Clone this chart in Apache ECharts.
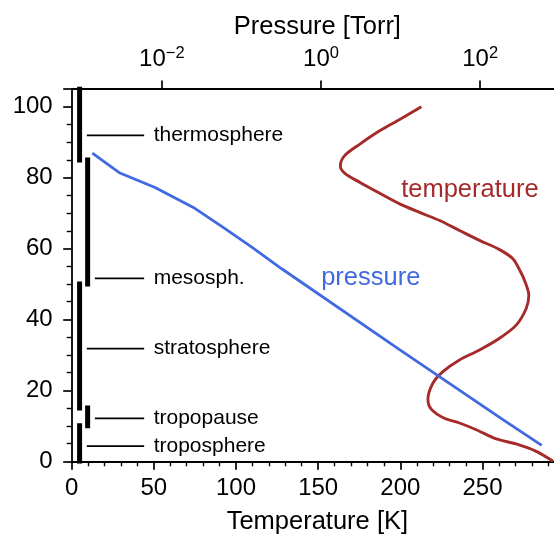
<!DOCTYPE html>
<html>
<head>
<meta charset="utf-8">
<script src="https://cdn.jsdelivr.net/npm/echarts@6/dist/echarts.min.js"></script>
<style>
  html, body { margin: 0; padding: 0; background: #fff; }
  #chart { width: 554px; height: 535px; }
</style>
</head>
<body>
<div id="chart"></div>
<script>
// Temperature profile: altitude (km) and temperature (K)
const tempAltitude = [0, 2.8, 4.9, 6.3, 8.9, 10.8, 12.2, 14.7, 17.5, 22.0, 25.3, 28.6, 31.4, 34.7,
  38.4, 43.1, 46.8, 51.0, 53.6, 57.1, 59.7, 62.3, 65.1, 67.9, 70.2, 72.6, 75.6, 78.7, 81.3,
  83.3, 86.2, 89.4, 93.2, 96.4, 100];
const tempKelvin = [293, 282.7, 270.5, 258.4, 246.2, 236.0, 226.5, 218.8, 216.8, 219.8, 225.9, 236.0,
  248.2, 260.4, 270.5, 276.6, 278.2, 275.6, 273.0, 268.5, 260.4, 248.2, 236.0, 223.9, 211.7,
  199.6, 187.4, 175.2, 166.1, 163.5, 166.1, 175.2, 187.4, 199.6, 212.8];

// Pressure profile: altitude (km) and pressure (Torr)
const pressureAltitude = [86.9, 81.3, 77.2, 71.6, 65.6, 60.4, 54.3, 31.4, 11.7, 4.5];
const pressureTorr = [0.00134, 0.00298, 0.00822, 0.0249, 0.0622, 0.135, 0.321, 9.8, 195, 593];

// Atmospheric layers (km) and the temperature column where each bar sits
const layerNames = ['troposphere', 'tropopause', 'stratosphere', 'mesosph.', 'thermosphere'];
const layerBottom = [0, 10, 15, 50, 85];
const layerTop = [10, 15, 50, 85, 105];
const layerColumn = [4.8, 9.7, 4.8, 9.7, 4.8];
const layerLabelAltitude = [4.3, 12.1, 31.8, 51.6, 91.9];
const layerLabelEnd = 44.1;

// Axis ticks
const pressureTicks = [0.01, 1, 100];

const FONT = 'Liberation Sans';
const BLACK = '#000';
const TEMP_COLOR = '#a52a2a';
const PRESSURE_COLOR = '#4169e1';
const TICK_SIZE = 24;
const NAME_SIZE = 25.5;

const baseAxis = (extra) => Object.assign({
  axisLine: { show: true, onZero: false, lineStyle: { color: BLACK, width: 1.8 } },
  axisTick: { show: true, length: 8.5, lineStyle: { color: BLACK, width: 1.7 } },
  splitLine: { show: false },
  nameTextStyle: { color: BLACK, fontFamily: FONT, fontSize: NAME_SIZE }
}, extra);

const labelStyle = (extra) => Object.assign({
  color: BLACK, fontFamily: FONT, fontSize: TICK_SIZE
}, extra);

const superscript = (v) => {
  const e = Math.round(Math.log10(v));
  return '{b|10}{s|' + String(e).replace('-', '\u2212') + '}';
};

const series = [];

// layer bars
layerNames.forEach((name, i) => {
  series.push({
    type: 'line', xAxisIndex: 0, yAxisIndex: 0, symbol: 'none', silent: true,
    data: [[layerColumn[i], layerBottom[i]], [layerColumn[i], layerTop[i]]],
    lineStyle: { color: BLACK, width: 5, cap: 'square' }
  });
  // connector from the bar to its name
  series.push({
    type: 'line', xAxisIndex: 0, yAxisIndex: 0, symbol: 'none', silent: true,
    data: [[layerColumn[i] + 4.4, layerLabelAltitude[i]], [layerLabelEnd, layerLabelAltitude[i]]],
    lineStyle: { color: BLACK, width: 1.7 }
  });
});

// layer names
series.push({
  type: 'scatter', xAxisIndex: 0, yAxisIndex: 0, silent: true,
  symbolSize: 1, itemStyle: { color: 'transparent', opacity: 1 },
  data: layerNames.map((name, i) => ({ name: name, value: [layerLabelEnd, layerLabelAltitude[i]] })),
  label: labelStyle({ show: true, position: 'right', distance: 9, formatter: '{b}', fontSize: 21 })
});

// temperature curve
series.push({
  type: 'line', name: 'temperature', xAxisIndex: 0, yAxisIndex: 0,
  symbol: 'none', smooth: 0.3, silent: true,
  data: tempAltitude.map((a, i) => [tempKelvin[i], a]),
  lineStyle: { color: TEMP_COLOR, width: 2.9 }
});

// pressure curve
series.push({
  type: 'line', name: 'pressure', xAxisIndex: 1, yAxisIndex: 0,
  symbol: 'none', silent: true,
  data: pressureAltitude.map((a, i) => [pressureTorr[i], a]),
  lineStyle: { color: PRESSURE_COLOR, width: 2.8 }
});

// curve names
series.push({
  type: 'scatter', xAxisIndex: 0, yAxisIndex: 0, silent: true,
  symbolSize: 1, itemStyle: { color: 'transparent', opacity: 1 },
  data: [
    { name: 'temperature', value: [200.2, 76.5], label: { color: TEMP_COLOR } },
    { name: 'pressure', value: [151.5, 51.8], label: { color: PRESSURE_COLOR } }
  ],
  label: labelStyle({ show: true, position: 'right', distance: 0, formatter: '{b}', fontSize: NAME_SIZE })
});

// the plot area runs a little past the right edge of the page
const option = {
  animation: false,
  backgroundColor: '#fff',
  grid: { left: 71.7, right: -9, top: 89, bottom: 73.7, containLabel: false, outerBoundsMode: 'none' },
  xAxis: [
    baseAxis({
      type: 'value', position: 'bottom', min: 0, max: 299, interval: 50,
      name: 'Temperature [K]', nameLocation: 'middle', nameGap: 48,
      minorTick: { show: true, splitNumber: 5, length: 5, lineStyle: { color: BLACK, width: 1.4 } },
      axisLabel: labelStyle({ margin: 15, showMaxLabel: false })
    }),
    baseAxis({
      type: 'log', logBase: 10, position: 'top', min: 7.38e-4, max: 1097,
      name: 'Pressure [Torr]', nameLocation: 'middle', nameGap: 43,
      axisTick: { show: true, length: 8.5, customValues: pressureTicks, lineStyle: { color: BLACK, width: 1.7 } },
      axisLabel: labelStyle({
        margin: 16, customValues: pressureTicks, formatter: superscript,
        rich: {
          b: { fontFamily: FONT, fontSize: TICK_SIZE, color: BLACK, lineHeight: 28 },
          s: { fontFamily: FONT, fontSize: 16.5, color: BLACK, lineHeight: 16, verticalAlign: 'top' }
        }
      })
    })
  ],
  yAxis: [
    baseAxis({
      type: 'value', min: 0, max: 105, interval: 20,
      minorTick: { show: true, splitNumber: 4, length: 5, lineStyle: { color: BLACK, width: 1.4 } },
      axisLabel: labelStyle({ margin: 19, showMaxLabel: false })
    })
  ],
  series: series
};

const chart = echarts.init(document.getElementById('chart'), null, { renderer: 'canvas' });
chart.setOption(option);
</script>
</body>
</html>
